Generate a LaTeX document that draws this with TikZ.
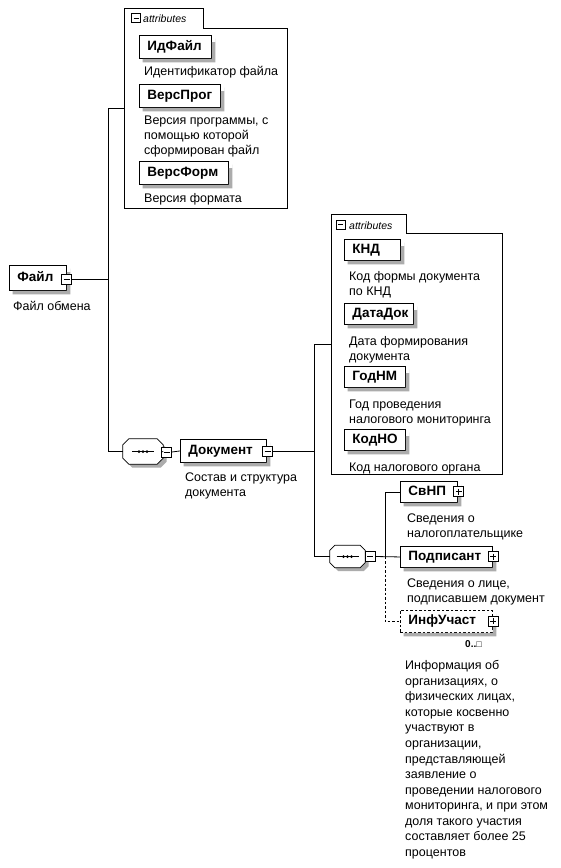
\documentclass[tikz,border=0pt]{standalone}
\usepackage{fontspec}
\setmainfont{Liberation Sans}
\newfontfamily\symfont{DejaVu Sans}
\tikzset{
  elem/.style={draw,fill=white,line width=0.9pt,anchor=north west,
    inner xsep=8pt,inner ysep=0pt,align=left,
    text height=9.5pt,text depth=2.5pt,font=\bfseries\fontsize{13.5}{14}\selectfont},
  desc/.style={anchor=base west,align=left,inner sep=0pt,font=\fontsize{12.5}{15}\selectfont},
  pm/.style={draw,fill=white,minimum size=10pt,inner sep=0pt,line width=0.7pt},
  minusbox/.style={pm,path picture={\draw[line width=0.7pt] ([xshift=2pt]path picture bounding box.west) -- ([xshift=-2pt]path picture bounding box.east);}},
  plusbox/.style={pm,path picture={\draw[line width=0.7pt] ([xshift=2pt]path picture bounding box.west) -- ([xshift=-2pt]path picture bounding box.east);
     \draw[line width=0.7pt] ([yshift=-2pt]path picture bounding box.north) -- ([yshift=2pt]path picture bounding box.south);}},
  seqnode/.style={rectangle,inner sep=0pt,draw=none},
  seqline/.style={draw,line width=0.8pt,fill=white},
  shadowfill/.style={fill=gray!65},
  attrbox/.style={inner sep=0pt,anchor=north west},
  tabtext/.style={anchor=base west,inner sep=0pt,font=\itshape\fontsize{10.5}{12}\selectfont},
  conn/.style={line width=0.8pt},
  optdash/.style={dash pattern=on 2.5pt off 2pt},
}
% #1 extra options, #2 name, #3 x, #4 y, #5 width, #6 height, #7 text
\newcommand\elemnode[7][]{%
  \pgfmathsetmacro\elemtw{#5-16}%
  \node[elem,text width=\elemtw pt,minimum height=#6pt,#1] (#2) at (#3,#4) {#7};
  \path[shadowfill,transform canvas={xshift=3.5pt,yshift=-3.5pt}]
    (#2.south west) -- (#2.south east) -- (#2.north east) -- ([yshift=-3.5pt]#2.north east)
    -- ([xshift=-3.5pt,yshift=-3.5pt]#2.north east) -- ([xshift=-3.5pt,yshift=3.5pt]#2.south east)
    -- ([yshift=3.5pt]#2.south west) -- cycle;}
\newcommand\seqdraw[2]{% #1 node name, #2 chamfer
  \path[shadowfill,transform canvas={xshift=3.5pt,yshift=-3.5pt}]
    ([xshift=#2]#1.north west) -- ([xshift=-#2]#1.north east) -- ([yshift=-#2]#1.north east)
    -- ([yshift=#2]#1.south east) -- ([xshift=-#2]#1.south east) -- ([xshift=#2]#1.south west)
    -- ([yshift=#2]#1.south west) -- ([yshift=-#2]#1.north west) -- cycle;
  \path[seqline]
    ([xshift=#2]#1.north west) -- ([xshift=-#2]#1.north east) -- ([yshift=-#2]#1.north east)
    -- ([yshift=#2]#1.south east) -- ([xshift=-#2]#1.south east) -- ([xshift=#2]#1.south west)
    -- ([yshift=#2]#1.south west) -- ([yshift=-#2]#1.north west) -- cycle;
  \draw[line width=0.9pt] ([xshift=-11pt]#1.center) -- ([xshift=11pt]#1.center);
  \foreach \d in {-4,0,4}{\fill ([xshift=\d pt]#1.center) circle (1.5pt);}
}
\begin{document}
\begin{tikzpicture}[x=1pt,y=-1pt]
\useasboundingbox[fill=white] (0,0) rectangle (560,868);

% ---------- attributes group 1 ----------
\node[attrbox,minimum width=163pt,minimum height=200pt] (attr1) at (124,8) {};
\draw[line width=0.8pt] (attr1.north west) -- (203,8) -- (203,28) -- (attr1.east |- 0,28) -- (attr1.south east) -- (attr1.south west) -- cycle;
\node[minusbox,minimum size=9pt] (am1) at (136,18) {};
\node[tabtext] (at1) at (143,22) {attributes};

\elemnode{idf}{139}{35}{72}{23}{ИдФайл}
\node[desc] (idfd) at (144,75.5) {Идентификатор файла};
\elemnode{vp}{139}{84}{81}{23}{ВерсПрог}
\node[desc] (vpd) at (144,154.5) {Версия программы, с\\помощью которой\\сформирован файл};
\elemnode{vf}{139}{161}{89}{23}{ВерсФорм}
\node[desc] (vfd) at (144,202.5) {Версия формата};

% ---------- root ----------
\elemnode{file}{9}{265}{57}{25}{Файл}
\node[minusbox] (fm) at (66.5,279) {};
\node[desc] (filed) at (13,310) {Файл обмена};

% ---------- sequence 1 and Document ----------
\node[seqnode,minimum width=40pt,minimum height=25pt] (seq1) at (143,451.5) {};
\seqdraw{seq1}{6pt}
\node[minusbox] (sm1) at (166.5,452) {};
\elemnode{doc}{180}{439}{86}{23}{Документ}
\node[minusbox] (dm) at (267.5,451) {};
\node[desc] (docd) at (185,496.5) {Состав и структура\\документа};

% ---------- attributes group 2 ----------
\node[attrbox,minimum width=171pt,minimum height=260pt] (attr2) at (331,214) {};
\draw[line width=0.8pt] (attr2.north west) -- (406,214) -- (406,233) -- (attr2.east |- 0,233) -- (attr2.south east) -- (attr2.south west) -- cycle;
\node[minusbox,minimum size=9pt] (am2) at (340.5,224.5) {};
\node[tabtext] (at2) at (349,229) {attributes};

\elemnode{knd}{344}{239}{56}{21}{КНД}
\node[desc] (kndd) at (349,295.5) {Код формы документа\\по КНД};
\elemnode{dd}{344}{303}{69}{21}{ДатаДок}
\node[desc] (ddd) at (349,360) {Дата формирования\\документа};
\elemnode{gnm}{344}{366}{61}{21}{ГодНМ}
\node[desc] (gnmd) at (349,423) {Год проведения\\налогового мониторинга};
\elemnode{kno}{344}{429}{61}{21}{КодНО}
\node[desc] (knod) at (349,471.5) {Код налогового органа};

% ---------- sequence 2 and children ----------
\node[seqnode,minimum width=35pt,minimum height=22pt] (seq2) at (347.5,556.5) {};
\seqdraw{seq2}{5pt}
\node[minusbox] (sm2) at (370,556.5) {};

\elemnode{svnp}{400}{481}{57}{21}{СвНП}
\node[plusbox] (svnpp) at (458.5,491.5) {};
\node[desc] (svnpd) at (407,537.5) {Сведения о\\налогоплательщике};

\elemnode{pod}{400}{546}{92}{21}{Подписант}
\node[plusbox] (podp) at (493,556.5) {};
\node[desc] (podd) at (407,602.5) {Сведения о лице,\\подписавшем документ};

\elemnode[optdash]{inf}{400}{610}{92}{22}{ИнфУчаст}
\node[plusbox] (infp) at (493,621) {};
\node[anchor=base west,inner sep=0pt,font=\bfseries\fontsize{10}{12}\selectfont] (card) at (465,647) {0..{\symfont\normalfont\fontsize{9}{10}\selectfont □}};
\node[anchor=base west,align=left,inner sep=0pt,font=\fontsize{12.5}{15.58}\selectfont] (infd) at (405,856.5)
 {Информация об\\организациях, о\\физических лицах,\\которые косвенно\\участвуют в\\организации,\\представляющей\\заявление о\\проведении налогового\\мониторинга, и при этом\\доля такого участия\\составляет более 25\\процентов};

% ---------- connectors ----------
\coordinate (j1) at (108,279);
\coordinate (j2) at (314,451);
\coordinate (j3) at (385,556.5);
\draw[conn] (fm.east) -- (j1);
\draw[conn] (attr1.west) -- (attr1.west -| j1) -- (seq1.west -| j1) -- (seq1.west);
\draw[conn] (seq1.east) -- (sm1.west);
\draw[conn] (sm1.east) -- (doc.west);
\draw[conn] (dm.east) -- (j2);
\draw[conn] (attr2.west) -- (attr2.west -| j2) -- (seq2.west -| j2) -- (seq2.west);
\draw[conn] (sm2.east) -- (pod.west);
\draw[conn] (svnp.west) -- (svnp.west -| j3) -- (j3);
\draw[conn,optdash] (j3) -- (inf.west -| j3) -- (inf.west);
\end{tikzpicture}
\end{document}
